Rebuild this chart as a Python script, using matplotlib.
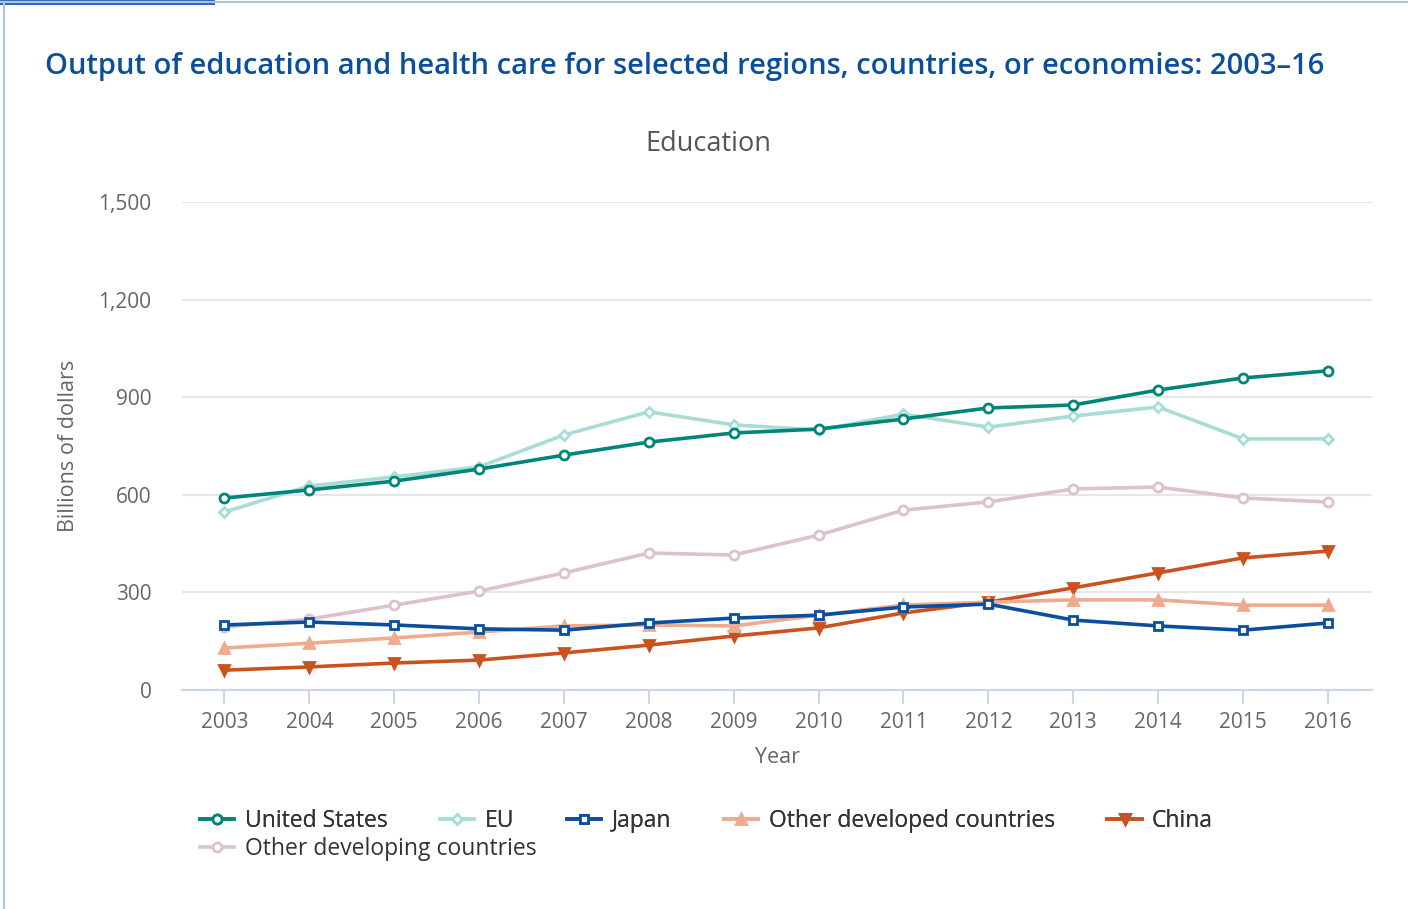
import matplotlib.pyplot as plt
from matplotlib.lines import Line2D
from matplotlib.patches import Rectangle

plt.rcParams['font.family'] = ['Open Sans', 'DejaVu Sans']

# data (billions of dollars)
years = [2003, 2004, 2005, 2006, 2007, 2008, 2009, 2010, 2011, 2012, 2013, 2014, 2015, 2016]
united_states = [590, 615, 642, 679, 722, 762, 790, 802, 833, 867, 876, 922, 959, 981]
eu = [547, 627, 655, 686, 784, 855, 815, 799, 848, 808, 842, 870, 772, 772]
japan = [200, 209, 200, 188, 184, 206, 221, 230, 255, 264, 215, 197, 184, 206]
other_developed = [129, 144, 160, 178, 197, 200, 197, 230, 261, 270, 277, 277, 261, 261]
china = [61, 71, 83, 92, 114, 138, 166, 191, 237, 270, 314, 360, 406, 427]
other_developing = [194, 218, 261, 304, 360, 421, 415, 476, 553, 578, 618, 624, 590, 578]

y_ticks = [0, 300, 600, 900, 1200, 1500]
y_tick_labels = ['0', '300', '600', '900', '1,200', '1,500']

fig = plt.figure(figsize=(14.08, 9.09), dpi=100)
ax = fig.add_axes([0.1293, 0.2409, 0.8451, 0.5369])

# series: (values, label, colour, marker, filled)
series = [
    (united_states, 'United States', '#00857a', 'o', False),
    (eu, 'EU', '#a8ddd5', 'D', False),
    (japan, 'Japan', '#0a4f9e', 's', False),
    (other_developed, 'Other developed countries', '#eeab8e', '^', True),
    (china, 'China', '#c9521f', 'v', True),
    (other_developing, 'Other developing countries', '#dcc1cf', 'o', False),
]

handles = []
# draw in reverse so US ends on top
for vals, lab, col, mk, filled in series[::-1]:
    ms = {'o': 6.5, 'D': 5, 's': 6, '^': 7.5, 'v': 7.5}[mk]
    h, = ax.plot(years, vals, color=col, lw=2.6, marker=mk, ms=ms,
                 markerfacecolor=col if filled else 'white',
                 markeredgecolor=col, markeredgewidth=2, label=lab, clip_on=False)
    handles.append(h)
handles = handles[::-1]

ax.set_xlim(2002.5, 2016.52)
ax.set_ylim(0, 1500)
ax.set_yticks(y_ticks)
ax.set_yticklabels(y_tick_labels)
ax.set_xticks(years)
ax.grid(axis='y', color='#e6e6e6', lw=1.5)
ax.set_axisbelow(True)
for s in ['top', 'right', 'left']:
    ax.spines[s].set_visible(False)
ax.spines['bottom'].set_color('#ccd6eb')
ax.spines['bottom'].set_linewidth(1.5)
ax.tick_params(axis='y', length=0, pad=22, labelsize=15, labelcolor='#666666')
ax.tick_params(axis='x', length=10, width=1.5, color='#ccd6eb', pad=6,
               labelsize=15, labelcolor='#666666')

ax.set_ylabel('Billions of dollars', fontsize=15.5, color='#666666', labelpad=14)
ax.set_xlabel('Year', fontsize=15.5, color='#666666', labelpad=10)

fig.text(0.032, 0.927, 'Output of education and health care for selected regions, countries, or economies: 2003\u201316',
         fontsize=21, fontweight='semibold', color='#0a4f9e', va='center', ha='left')
fig.text(0.503, 0.842, 'Education', fontsize=19.5, color='#555555', ha='center', va='center')

# legend: first row of five, second row of one
leg_kw = dict(frameon=False, fontsize=16.5, handlelength=1.5, handletextpad=0.45,
              columnspacing=2.3, labelcolor='#333333', borderaxespad=0, borderpad=0)
leg1 = fig.legend(handles[:5], [s[1] for s in series[:5]], ncol=5,
                  loc='center left', bbox_to_anchor=(0.142, 0.097), **leg_kw)
fig.legend(handles[5:], [s[1] for s in series[5:]], ncol=1,
           loc='center left', bbox_to_anchor=(0.142, 0.066), **leg_kw)
fig.add_artist(leg1)

# frame around the chart
fig.add_artist(Line2D([0.0025, 0.0025], [0, 0.998], transform=fig.transFigure, color='#a9c5e2', lw=1.5))
fig.add_artist(Line2D([0, 1], [0.998, 0.998], transform=fig.transFigure, color='#a9c5e2', lw=1.5))
fig.add_artist(Rectangle((0, 0.995), 0.153, 0.005, transform=fig.transFigure, color='#2f6bb0', lw=0))

fig.savefig('out.png', dpi=100)
